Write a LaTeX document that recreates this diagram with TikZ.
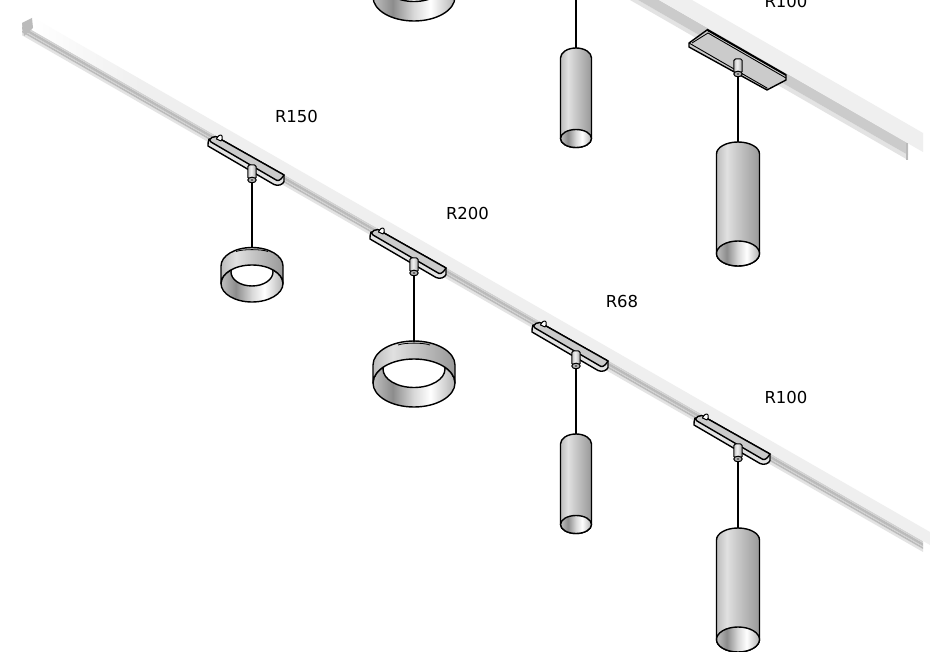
\documentclass[tikz,border=0pt]{standalone}
\usepackage{fontspec}
\setmainfont{DejaVu Sans}
\definecolor{facec}{HTML}{EFEFEF}
\definecolor{greyA}{HTML}{CBCBCB}
\definecolor{greyB}{HTML}{E3E3E3}
\definecolor{greyC}{HTML}{BBBBBB}
\definecolor{greyD}{HTML}{D2D2D2}
\pgfdeclarehorizontalshading{tube}{100bp}{color(0bp)=(white!74!black); color(25bp)=(white!74!black); color(37bp)=(white!88!black); color(50bp)=(white!78!black); color(75bp)=(white!60!black); color(100bp)=(white!60!black)}
\pgfdeclarehorizontalshading{inside}{100bp}{color(0bp)=(white!75!black); color(25bp)=(white!75!black); color(37bp)=(white!55!black); color(50bp)=(white!85!black); color(60bp)=(white); color(75bp)=(white!70!black); color(100bp)=(white!70!black)}
\pgfdeclarehorizontalshading{railshade}{100bp}{color(0bp)=(white); color(25bp)=(white); color(31bp)=(facec); color(100bp)=(facec)}
\pgfdeclarehorizontalshading{stem}{100bp}{color(0bp)=(white!75!black); color(25bp)=(white!75!black); color(45bp)=(white!95!black); color(75bp)=(white!65!black); color(100bp)=(white!65!black)}
\tikzset{
  outline/.style={draw=black,line width=1.4pt,line join=round},
  cable/.style={draw=black,line width=2.8pt},
  tubebody/.style={outline,shading=tube,shading angle=0},
  insidebody/.style={outline,shading=inside,shading angle=0},
  label/.style={inner sep=0pt,font=\fontsize{16.5}{16.5}\selectfont,text=black}
}
% one stripe of the main rail, between two offsets below its top edge, from x=#2 to x=#3
\newcommand\railband[5]{\fill[#1] ({#2},{17+(#2-32)*.5735+#4}) -- ({#3},{17+(#3-32)*.5735+#4}) -- ({#3},{17+(#3-32)*.5735+#5}) -- ({#2},{17+(#2-32)*.5735+#5}) -- cycle;}
\newcommand\pendant[3]{% name, x, top y
  \path[outline,line width=1pt,shading=stem,shading angle=0,rounded corners=1.5pt] (#2-4.2,#3) -- (#2+4.2,#3) -- (#2+4.2,#3+14) -- (#2-4.2,#3+14) -- cycle;
  \path[draw=black,line width=1pt,fill=white!70!black] (#2,#3+15) ellipse[x radius=4.2pt,y radius=2.8pt];
  \fill[black!70] (#2,#3+15) circle (1.2pt);
  \coordinate (#1) at (#2,#3+17);
}
\newcommand\lowbar[3]{% name, dx, dy
  \begin{scope}[shift={(#2,#3)}]
    \path[outline,fill=greyB] (209,139) .. controls (208,141) and (208,145) .. (208,146) -- (274,184.5) .. controls (278,186.5) and (283,184.5) .. (284,181.5) -- (284,175) -- (222,140) -- cycle;
    \path[outline,fill=greyA] (211,142) -- (277,180.5) .. controls (280,181) and (282,178) .. (284,175) -- (222,140) .. controls (219,136) and (212,135) .. (209.5,140) -- cycle;
    \path[outline,fill=white,line width=1pt] (216.5,139) .. controls (217.5,136) and (221,133.5) .. (222,136) .. controls (223,138) and (222,140) .. (221,141) -- cycle;
  \end{scope}
  \pendant{#1}{252+#2}{165+#3}
}
\newcommand\cylinder[7]{% name cx toptop rx ry botcy botry
  \path[tubebody] (#2-#4,#3+#5) arc[start angle=180,end angle=0,x radius=#4 pt,y radius=#5 pt] -- (#2+#4,#6) arc[start angle=0,end angle=-180,x radius=#4 pt,y radius=#7 pt] -- cycle;
  \path[insidebody] (#2,#6) ellipse[x radius=#4 pt,y radius=#7 pt];
  \coordinate (#1) at (#2,#3);
}
\newcommand\ringlamp[9]{% name cx toptop rx ry sideh holecy holerx holery
  \path[insidebody] (#2,#3+#5+#6) ellipse[x radius=#4 pt,y radius=#5 pt];
  \begin{scope}
    \clip (#2,#3+#5+#6) ellipse[x radius=#4 pt,y radius=#5 pt];
    \path[outline,fill=white] (#2,#7) ellipse[x radius=#8 pt,y radius=#9 pt];
  \end{scope}
  \path[tubebody] (#2-#4,#3+#5) arc[start angle=180,end angle=0,x radius=#4 pt,y radius=#5 pt] -- (#2+#4,#3+#5+#6) arc[start angle=0,end angle=180,x radius=#4 pt,y radius=#5 pt] -- cycle;
  \path[draw=black,line width=.8pt] (#2-16,#3+4) .. controls (#2-9,#3+1.5) and (#2+9,#3+1.5) .. (#2+16,#3+4);
  \coordinate (#1) at (#2,#3+1);
}
\begin{document}
\begin{tikzpicture}[x=1pt,y=-1pt]
\useasboundingbox (0,0) rectangle (930,652);
\clip (0,0) rectangle (930,652);
\fill[white] (0,0) rectangle (930,652);

% upper rail
\fill[greyB] (630,0) -- (908,160) -- (908,155) -- (638,0) -- cycle;
\fill[greyA] (638,0) -- (908,155) -- (908,143) -- (659,0) -- cycle;
\fill[facec] (692,0) -- (923,133) -- (923,152) -- (659,0) -- cycle;
\fill[greyC] (906,143) rectangle (908,160);

% main rail
\railband{greyB}{22}{923}{21}{24}
\railband{greyC}{22}{923}{19}{21}
\railband{greyD}{22}{923}{18}{19}
\railband{greyC}{22}{923}{15}{18}
\railband{greyD}{22}{923}{13}{15}
\path[shading=railshade,shading angle=0] (32,17) -- (930,532) -- (930,545) -- (32,30) -- cycle;
\fill[greyC] (22,23) -- (32,18) -- (33,28) -- (24,36) -- cycle;

% lower fixtures
\lowbar{pa}{0}{0}
\lowbar{pb}{162}{93}
\lowbar{pc}{324}{186}
\lowbar{pd}{486}{279}
\ringlamp{la}{252}{247.5}{31}{18.5}{17.5}{272}{21}{14}
\ringlamp{lb}{414}{341}{41}{24}{18}{369}{31}{18.5}
\cylinder{lc}{576}{434}{15.5}{10}{524.5}{9}
\cylinder{ld}{738}{528}{21.5}{12}{639.5}{12.5}
\draw[cable] (pa) -- (la);
\draw[cable] (pb) -- (lb);
\draw[cable] (pc) -- (lc);
\draw[cable] (pd) -- (ld);

% upper fixtures
\ringlamp{ua}{414}{-45}{41}{24}{18}{-17}{31}{18.5}
\cylinder{uc}{576}{48}{15.5}{10}{138.5}{9}
\coordinate (ucTop) at (576,0);
\draw[cable] (ucTop) -- (uc);
\path[outline,fill=greyA] (689,43) -- (707,30) -- (786,75) -- (786,80) -- (767,90) -- (689,47) -- cycle;
\draw[black,line width=.9pt] (692,43) -- (708,33) -- (786,78);
\draw[black,line width=.9pt] (689,43) -- (767,88) -- (767,90);
\draw[black,line width=1.8pt] (707,29.5) -- (786,75);
\pendant{ud}{738}{59}
\cylinder{ue}{738}{142}{21.5}{12}{253.5}{12.5}
\draw[cable] (ud) -- (ue);

% labels
\node[label] (ta) at (296.5,116) {R150};
\node[label] (tb) at (467.5,213) {R200};
\node[label] (tc) at (622,301) {R68};
\node[label] (td) at (786,397) {R100};
\node[label] (te) at (786,1) {R100};
\end{tikzpicture}
\end{document}
